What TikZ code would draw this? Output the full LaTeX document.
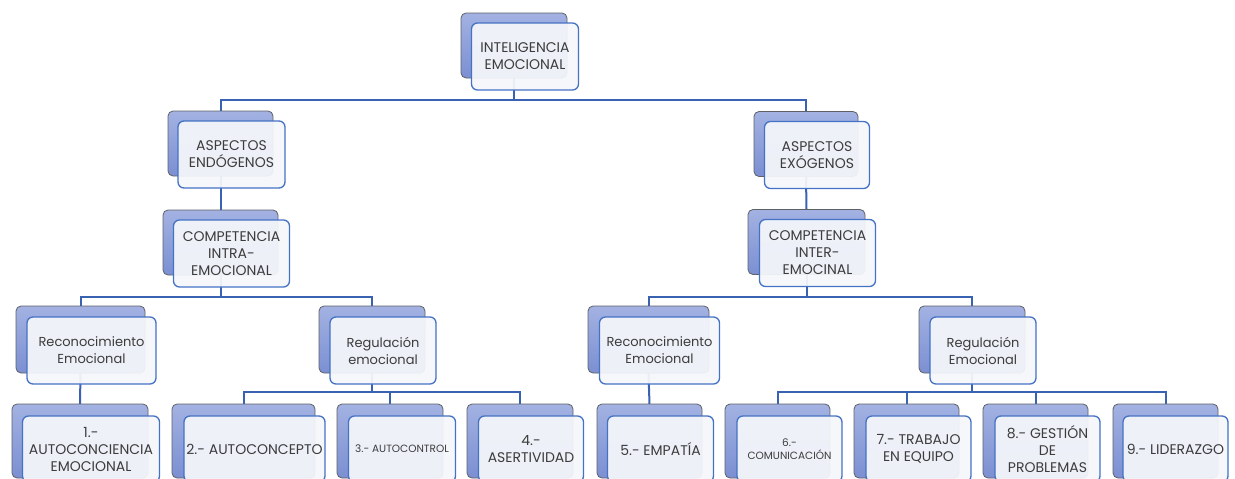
\documentclass[tikz,border=0pt]{standalone}
\usepackage{fontspec}
\setmainfont{Poppins}
\usetikzlibrary{backgrounds}

\definecolor{linkblue}{HTML}{3A62B2}
\definecolor{frontblue}{HTML}{4472C4}
\definecolor{frontfill}{HTML}{F4F6FA}
\definecolor{backtop}{HTML}{A3B2E2}
\definecolor{backbot}{HTML}{7B8FD2}
\definecolor{backgray}{HTML}{5E6066}
\definecolor{textgray}{HTML}{3C3C3C}

\begin{document}
\begin{tikzpicture}[x=1pt,y=-1pt]
      \tikzstyle{back} = [rectangle, rounded corners=5pt, draw=backgray, line width=0.8pt, top color=backtop, bottom color=backbot, minimum height=65pt, outer sep=0pt]
      \tikzstyle{front} = [rectangle, rounded corners=6pt, draw=frontblue, line width=1.3pt, fill=frontfill, fill opacity=0.94, text opacity=1, text=textgray, align=center, font=\fontsize{14}{17}\selectfont, minimum height=67pt, inner sep=2pt]
      \tikzstyle{lower} = [font=\fontsize{13}{17}\selectfont]
      \tikzstyle{small} = [font=\fontsize{10.5}{13}\selectfont]
      \tikzstyle{leaf} = [minimum height=74pt]
      \tikzstyle{leaffront} = [minimum height=66pt]
      \tikzstyle{link} = [draw=linkblue, line width=2pt]
      \useasboundingbox (0,0) rectangle (1235,479);
      \clip (0,0) rectangle (1235,479);
      % root
      \node (ie) [back, minimum width=106pt] at (514,45.5) {};
      \node (ie-f) [front, minimum width=107pt] at ([shift={(11,11)}]ie) {INTELIGENCIA\\EMOCIONAL};
      % first level
      \node (endo) [back, minimum width=105pt] at (220.5,143.5) {};
      \node (endo-f) [front, minimum width=107pt] at ([shift={(11,11)}]endo) {ASPECTOS\\ENDÓGENOS};
      \node (exo) [back, minimum width=104pt] at (806,144) {};
      \node (exo-f) [front, minimum width=105pt] at ([shift={(11,11)}]exo) {ASPECTOS\\EXÓGENOS};
      % competencias
      \node (intra) [back, minimum width=115pt] at (220.5,242.5) {};
      \node (intra-f) [front, minimum width=116pt] at ([shift={(11,11)}]intra) {COMPETENCIA\\INTRA-\\EMOCIONAL};
      \node (inter) [back, minimum width=117pt] at (806.5,242) {};
      \node (inter-f) [front, minimum width=116pt] at ([shift={(11,11)}]inter) {COMPETENCIA\\INTER-\\EMOCINAL};
      % third level
      \node (recA) [back, minimum width=129pt, minimum height=67pt] at (80.5,339.5) {};
      \node (recA-f) [front, lower, minimum width=129pt] at ([shift={(11,11)}]recA) {Reconocimiento\\Emocional};
      \node (regA) [back, minimum width=106pt, minimum height=67pt] at (372,339.5) {};
      \node (regA-f) [front, lower, minimum width=106pt] at ([shift={(11,11)}]regA) {Regulación\\emocional};
      \node (recB) [back, minimum width=121pt, minimum height=67pt] at (648.5,339.5) {};
      \node (recB-f) [front, lower, minimum width=120pt] at ([shift={(11,11)}]recB) {Reconocimiento\\Emocional};
      \node (regB) [back, minimum width=106pt, minimum height=67pt] at (972,339.5) {};
      \node (regB-f) [front, lower, minimum width=106pt] at ([shift={(11,11)}]regB) {Regulación\\Emocional};
      % leaves
      \node (b1) [back, leaf, minimum width=136pt] at (80,441) {};
      \node (b1-f) [front, leaffront, minimum width=137pt] at ([shift={(11,8)}]b1) {1.-\\AUTOCONCIENCIA\\EMOCIONAL};
      \node (b2) [back, leaf, minimum width=143pt] at (243.5,441) {};
      \node (b2-f) [front, leaffront, minimum width=141pt] at ([shift={(11,8)}]b2) {2.- AUTOCONCEPTO};
      \node (b3) [back, leaf, minimum width=106pt] at (390,441) {};
      \node (b3-f) [front, leaffront, small, minimum width=107pt] at ([shift={(12,8)}]b3) {3.- AUTOCONTROL};
      \node (b4) [back, leaf, minimum width=106pt] at (520,441) {};
      \node (b4-f) [front, leaffront, minimum width=105pt] at ([shift={(11,8)}]b4) {4.-\\ASERTIVIDAD};
      \node (b5) [back, leaf, minimum width=105pt] at (649.5,441) {};
      \node (b5-f) [front, leaffront, minimum width=106pt] at ([shift={(11,8)}]b5) {5.- EMPATÍA};
      \node (b6) [back, leaf, minimum width=105pt] at (777.5,441) {};
      \node (b6-f) [front, leaffront, small, minimum width=105pt] at ([shift={(12,8)}]b6) {6.-\\COMUNICACIÓN};
      \node (b7) [back, leaf, minimum width=105pt] at (906.5,441) {};
      \node (b7-f) [front, leaffront, minimum width=105pt] at ([shift={(12,8)}]b7) {7.- TRABAJO\\EN EQUIPO};
      \node (b8) [back, leaf, minimum width=105pt] at (1035.5,441) {};
      \node (b8-f) [front, leaffront, minimum width=105pt] at ([shift={(12,8)}]b8) {8.- GESTIÓN\\DE\\PROBLEMAS};
      \node (b9) [back, leaf, minimum width=105pt] at (1165.5,441) {};
      \node (b9-f) [front, leaffront, minimum width=105pt] at ([shift={(10,8)}]b9) {9.- LIDERAZGO};
      % connectors behind the boxes
      \begin{scope}[on background layer]
        \draw [link] (ie.south) -- ++(0,22) -| (endo.north);
        \draw [link] (ie.south) -- ++(0,22) -| (exo.north);
        \draw [link] (endo.south) -- (intra.north);
        \draw [link] (exo.south) -- (inter.north);
        \draw [link] (intra.south) -- ++(0,22) -| (recA.north);
        \draw [link] (intra.south) -- ++(0,22) -| (regA.north);
        \draw [link] (inter.south) -- ++(0,22) -| (recB.north);
        \draw [link] (inter.south) -- ++(0,22) -| (regB.north);
        \draw [link] (recA.south) -- (b1.north);
        \draw [link] (recB.south) -- (b5.north);
        \foreach \leaf in {b2,b3,b4}
          \draw [link] (regA.south) -- ++(0,19) -| (\leaf.north);
        \foreach \leaf in {b6,b7,b8,b9}
          \draw [link] (regB.south) -- ++(0,19) -| (\leaf.north);
      \end{scope}
\end{tikzpicture}
\end{document}
